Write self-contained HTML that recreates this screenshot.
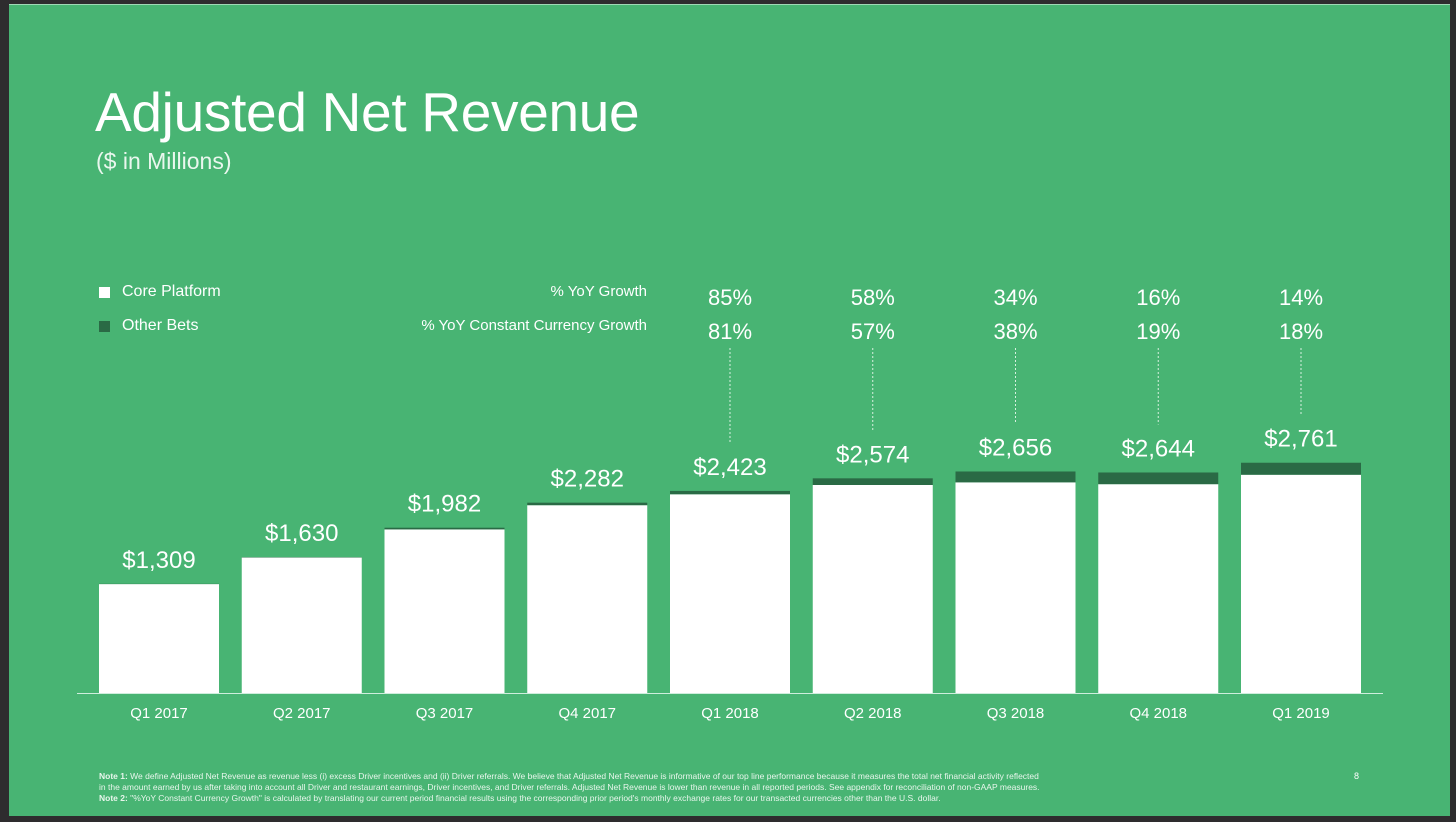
<!DOCTYPE html>
<html><head><meta charset="utf-8">
<style>
body{margin:0;width:1456px;height:822px;background:#2e2c2e;overflow:hidden;font-family:"Liberation Sans",sans-serif}
#slide{position:absolute;left:9px;top:4px;width:1441px;height:811px;background:#48b473;border-top:1px solid #9fd9b5}
.t{position:absolute;color:#fff;white-space:nowrap}
</style></head><body>
<div id="slide"></div>
<div class="t" style="left:95px;top:80px;font-size:55px;letter-spacing:-0.3px">Adjusted Net Revenue</div>
<div class="t" style="left:96px;top:148px;font-size:23px;font-weight:300;color:#eaf7ee">($ in Millions)</div>
<div style="position:absolute;left:99px;top:287px;width:11px;height:11px;background:#fff"></div>
<div class="t" style="left:122px;top:283px;font-size:16px">Core Platform</div>
<div style="position:absolute;left:99px;top:321px;width:11px;height:11px;background:#2a6a45"></div>
<div class="t" style="left:122px;top:317px;font-size:16px">Other Bets</div>
<div class="t" style="right:809px;top:283px;font-size:15px">% YoY Growth</div>
<div class="t" style="right:809px;top:317px;font-size:15px">% YoY Constant Currency Growth</div>
<svg id="chart" width="1456" height="822" style="position:absolute;left:0;top:0"></svg>
<div class="t" style="left:99px;top:771px;font-size:8.5px;line-height:11px;color:#e8f6ec"><b>Note 1:</b> We define Adjusted Net Revenue as revenue less (i) excess Driver incentives and (ii) Driver referrals. We believe that Adjusted Net Revenue is informative of our top line performance because it measures the total net financial activity reflected<br>in the amount earned by us after taking into account all Driver and restaurant earnings, Driver incentives, and Driver referrals. Adjusted Net Revenue is lower than revenue in all reported periods. See appendix for reconciliation of non-GAAP measures.<br><b>Note 2:</b> "%YoY Constant Currency Growth" is calculated by translating our current period financial results using the corresponding prior period's monthly exchange rates for our transacted currencies other than the U.S. dollar.</div>
<div class="t" style="left:1354px;top:771px;font-size:9px">8</div>
<script>
const categories=["Q1 2017","Q2 2017","Q3 2017","Q4 2017","Q1 2018","Q2 2018","Q3 2018","Q4 2018","Q1 2019"];
const totals=[1309,1630,1982,2282,2423,2574,2656,2644,2761];
const otherBets=[3,5,20,30,40,80,130,140,144];
const valueLabels=["$1,309","$1,630","$1,982","$2,282","$2,423","$2,574","$2,656","$2,644","$2,761"];
const yoyGrowth=[null,null,null,null,"85%","58%","34%","16%","14%"];
const yoyCC=[null,null,null,null,"81%","57%","38%","19%","18%"];
const svg=document.getElementById('chart');const NS='http://www.w3.org/2000/svg';
const base=693,k=0.0834,x0=99,pitch=142.75,bw=120;
const y=v=>base-v*k; const x=i=>x0+i*pitch;
function mk(t,a){const e=document.createElementNS(NS,t);for(const n in a)e.setAttribute(n,a[n]);svg.appendChild(e);return e;}
categories.forEach((c,i)=>{
  const top=y(totals[i]),split=y(totals[i]-otherBets[i]);
  let r=mk('rect',{x:x(i),y:split,width:bw,height:base-split,fill:'#fff'});
  
  
  r=mk('rect',{x:x(i),y:top,width:bw,height:split-top,fill:'#2a6a45'});
  
  
  let t=mk('text',{x:x(i)+bw/2,y:top-16,'text-anchor':'middle',fill:'#fff','font-size':24,'font-family':'Liberation Sans'});
  t.textContent=valueLabels[i];
  
  
  t=mk('text',{x:x(i)+bw/2,y:718,'text-anchor':'middle',fill:'#fff','font-size':15,'font-family':'Liberation Sans'});
  t.textContent=c;
  
  
  if(yoyGrowth[i]){
    t=mk('text',{x:x(i)+bw/2,y:305,'text-anchor':'middle',fill:'#fff','font-size':22,'font-family':'Liberation Sans'});
    t.textContent=yoyGrowth[i];
    
    
    t=mk('text',{x:x(i)+bw/2,y:339,'text-anchor':'middle',fill:'#fff','font-size':22,'font-family':'Liberation Sans'});
    t.textContent=yoyCC[i];
    
    
    const l=mk('line',{x1:x(i)+bw/2,x2:x(i)+bw/2,y1:348,y2:top-48,stroke:'#d8f0e0','stroke-width':1,'stroke-dasharray':'2,2'});
    
    
  }
});
const ax=mk('line',{x1:77,x2:1383,y1:base+0.5,y2:base+0.5,stroke:'#cfeedd','stroke-width':1});


</script>
</body></html>
